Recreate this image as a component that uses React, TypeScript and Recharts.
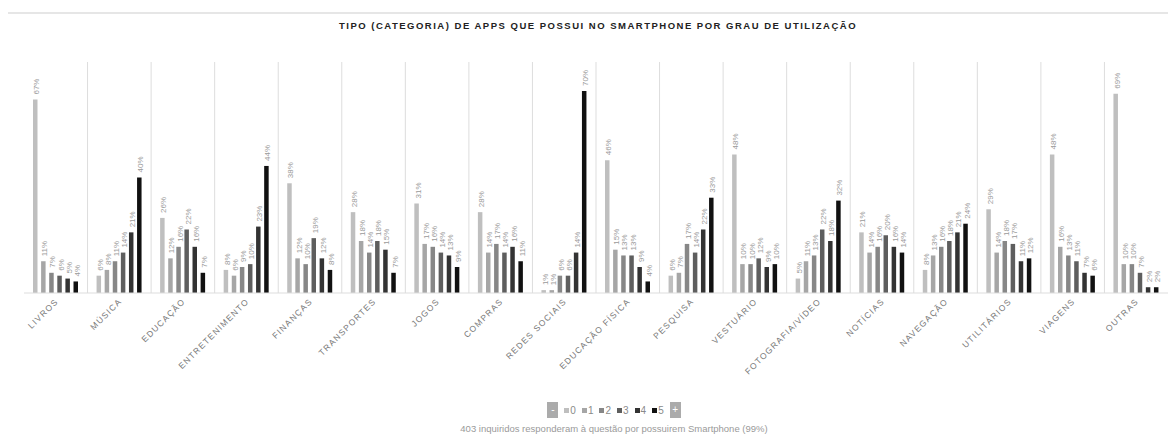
import { BarChart, Bar, XAxis, YAxis, CartesianGrid, Legend, LabelList } from "recharts";

const categories = [
  "LIVROS",
  "MÚSICA",
  "EDUCAÇÃO",
  "ENTRETENIMENTO",
  "FINANÇAS",
  "TRANSPORTES",
  "JOGOS",
  "COMPRAS",
  "REDES SOCIAIS",
  "EDUCAÇÃO FÍSICA",
  "PESQUISA",
  "VESTUÁRIO",
  "FOTOGRAFIA/VÍDEO",
  "NOTÍCIAS",
  "NAVEGAÇÃO",
  "UTILITÁRIOS",
  "VIAGENS",
  "OUTRAS",
];

// percentage of respondents per usage level (0 = never ... 5 = a lot)
const level0 = [67, 6, 26, 8, 38, 28, 31, 28, 1, 46, 6, 48, 5, 21, 8, 29, 48, 69];
const level1 = [11, 8, 12, 6, 12, 18, 17, 14, 1, 15, 7, 10, 11, 14, 13, 14, 16, 10];
const level2 = [7, 11, 16, 9, 10, 14, 16, 17, 6, 13, 17, 10, 13, 16, 16, 18, 13, 10];
const level3 = [6, 14, 22, 10, 19, 18, 14, 14, 6, 13, 14, 12, 22, 20, 18, 17, 11, 7];
const level4 = [5, 21, 16, 23, 12, 15, 13, 16, 14, 9, 22, 9, 18, 16, 21, 11, 7, 2];
const level5 = [4, 40, 7, 44, 8, 7, 9, 11, 70, 4, 33, 10, 32, 14, 24, 12, 6, 2];

const levels = ["0", "1", "2", "3", "4", "5"];
const colors = ["#bfbfbf", "#a6a6a6", "#878787", "#5e5e5e", "#333333", "#111111"];

const data = categories.map((name, i) => ({
  name,
  "0": level0[i],
  "1": level1[i],
  "2": level2[i],
  "3": level3[i],
  "4": level4[i],
  "5": level5[i],
}));

const FONT = "Arial, 'Liberation Sans', sans-serif";

const ValueLabel = (props: any) => {
  const { x, y, width, value } = props;
  const cx = x + width / 2 + 4;
  const ty = y - 5;
  return (
    <text
      x={cx}
      y={ty}
      transform={`rotate(-90 ${cx} ${ty})`}
      fontSize={8}
      fontFamily={FONT}
      fill="#9a9a9a"
      textAnchor="start"
    >
      {value}%
    </text>
  );
};

const CategoryTick = (props: any) => {
  const { x, y, payload } = props;
  const tx = x + 3;
  const ty = y + 1;
  return (
    <text
      x={tx}
      y={ty}
      transform={`rotate(-45 ${tx} ${ty})`}
      textAnchor="end"
      fontSize={8.5}
      fontFamily={FONT}
      letterSpacing={1.2}
      fill="#777"
    >
      {payload.value}
    </text>
  );
};

const boxStyle = {
  width: 11,
  height: 16,
  background: "#ababab",
  color: "#fff",
  fontSize: 10,
  lineHeight: "16px",
};

const LevelLegend = () => (
  <div style={{ fontFamily: FONT, textAlign: "center" }}>
    <div style={{ display: "flex", justifyContent: "center", alignItems: "center", height: 16 }}>
      <span style={{ ...boxStyle, marginRight: 6 }}>-</span>
      {levels.map((l, i) => (
        <span key={l} style={{ display: "flex", alignItems: "center", marginRight: 6, fontSize: 10, color: "#8a8a8a" }}>
          <span style={{ width: 5, height: 5, background: colors[i], marginRight: 1 }} />
          {l}
        </span>
      ))}
      <span style={boxStyle}>+</span>
    </div>
    <div style={{ fontSize: 9.5, color: "#9a9a9a", marginTop: 5, whiteSpace: "nowrap" }}>
      403 inquiridos responderam à questão por possuirem Smartphone (99%)
    </div>
  </div>
);

export default function App() {
  return (
    <div
      style={{
        position: "relative",
        left: -1,
        top: 4,
        width: 1169,
        height: 429,
        borderTop: "2px solid #e6e6e6",
        borderLeft: "1px solid #dedede",
        fontFamily: FONT,
      }}
    >
      <div
        style={{
          position: "absolute",
          left: 590,
          top: 6,
          transform: "translateX(-50%)",
          whiteSpace: "nowrap",
          fontSize: 9.5,
          fontWeight: "bold",
          letterSpacing: 1.5,
          color: "#222",
        }}
      >
        TIPO (CATEGORIA) DE APPS QUE POSSUI NO SMARTPHONE POR GRAU DE UTILIZAÇÃO
      </div>
      <BarChart
        width={1168}
        height={429}
        data={data}
        margin={{ top: 48, right: 8, bottom: 90, left: 16 }}
        barSize={4.5}
        barGap={3.6}
      >
        <CartesianGrid
          horizontal={false}
          stroke="#dddddd"
          verticalCoordinatesGenerator={({ offset }: any) =>
            categories.slice(1).map((_, i) => offset.left + ((i + 1) * offset.width) / categories.length)
          }
        />
        <XAxis
          dataKey="name"
          interval={0}
          height={60}
          tickLine={false}
          axisLine={{ stroke: "#dddddd" }}
          tick={<CategoryTick />}
        />
        <YAxis hide domain={[0, 80]} />
        <Legend
          verticalAlign="middle"
          align="center"
          content={<LevelLegend />}
          wrapperStyle={{ top: 388, left: 406, width: 400 }}
        />
        {levels.map((l, i) => (
          <Bar key={l} dataKey={l} fill={colors[i]} isAnimationActive={false}>
            <LabelList dataKey={l} content={<ValueLabel />} />
          </Bar>
        ))}
      </BarChart>
    </div>
  );
}
